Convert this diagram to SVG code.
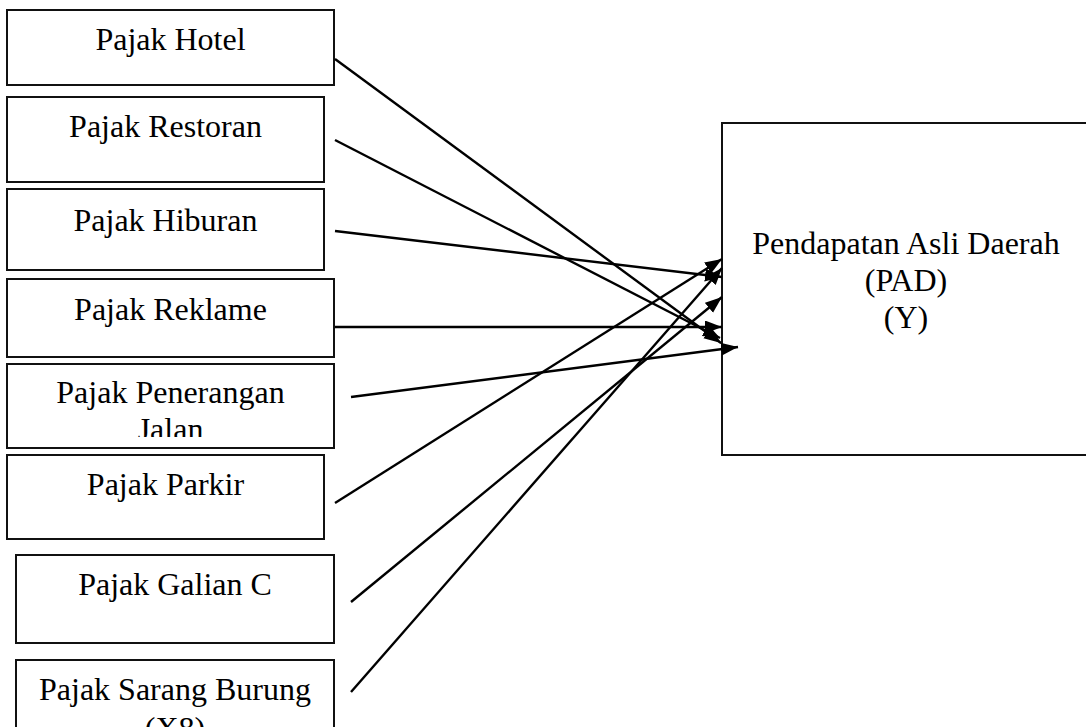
<svg xmlns="http://www.w3.org/2000/svg" width="1086" height="727" viewBox="0 0 1086 727">
<style>
.box{fill:#fff;stroke:#111;stroke-width:2}
.t{font-family:"Liberation Serif","Times New Roman",serif;font-size:32px;fill:#000;text-anchor:middle}
.c{stroke:#000;stroke-width:2.4;fill:none;marker-end:url(#ah)}
</style>
<defs>
<marker id="ah" markerUnits="userSpaceOnUse" markerWidth="20" markerHeight="14" refX="17" refY="6.5" orient="auto">
<path d="M0,0 L17,6.5 L0,13 Z" fill="#000"/>
</marker>
<clipPath id="c5"><rect x="7" y="364" width="327" height="73"/></clipPath>
</defs>
<rect width="1086" height="727" fill="#fff"/>
<g id="n1"><rect class="box" x="7" y="10" width="327" height="75"/><text class="t" x="170.5" y="50">Pajak Hotel</text></g>
<g id="n2"><rect class="box" x="7" y="97" width="317" height="85"/><text class="t" x="165.5" y="137">Pajak Restoran</text></g>
<g id="n3"><rect class="box" x="7" y="189" width="317" height="81"/><text class="t" x="165.5" y="231">Pajak Hiburan</text></g>
<g id="n4"><rect class="box" x="7" y="279" width="327" height="78"/><text class="t" x="170.5" y="320">Pajak Reklame</text></g>
<g id="n5"><rect class="box" x="7" y="364" width="327" height="84"/><text class="t" clip-path="url(#c5)"><tspan x="170.5" y="403">Pajak Penerangan</tspan><tspan x="170.5" y="440">Jalan</tspan></text></g>
<g id="n6"><rect class="box" x="7" y="455" width="317" height="84"/><text class="t" x="165.5" y="495">Pajak Parkir</text></g>
<g id="n7"><rect class="box" x="16" y="555" width="318" height="88"/><text class="t" x="175" y="595">Pajak Galian C</text></g>
<g id="n8"><rect class="box" x="16" y="660" width="318" height="80"/><text class="t"><tspan x="175" y="700">Pajak Sarang Burung</tspan><tspan x="175" y="739">(X8)</tspan></text></g>
<g id="y"><rect class="box" x="722" y="123" width="380" height="332"/><text class="t"><tspan x="906" y="254">Pendapatan Asli Daerah</tspan><tspan x="906" y="291">(PAD)</tspan><tspan x="906" y="328">(Y)</tspan></text></g>
<g id="connectors">
<line class="c" x1="335" y1="59" x2="721" y2="343"/>
<line class="c" x1="335" y1="140" x2="720" y2="338"/>
<line class="c" x1="335" y1="231" x2="722" y2="277"/>
<line class="c" x1="335" y1="327" x2="722" y2="327"/>
<line class="c" x1="351" y1="397" x2="738" y2="347"/>
<line class="c" x1="335" y1="503" x2="722" y2="259"/>
<line class="c" x1="351" y1="602" x2="722" y2="297"/>
<line class="c" x1="351" y1="692" x2="722" y2="268"/>
</g>
</svg>
